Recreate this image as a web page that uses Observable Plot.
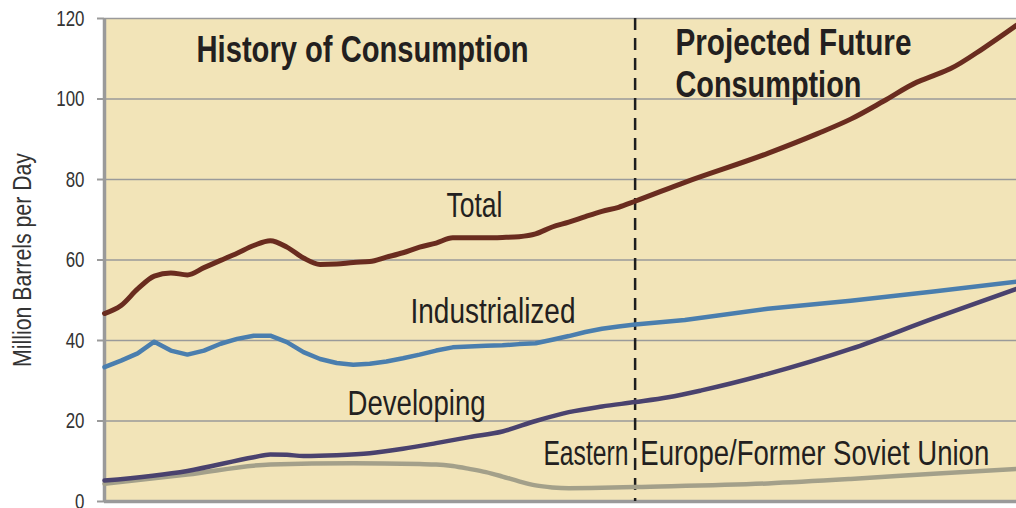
<!DOCTYPE html>
<html>
<head>
<meta charset="utf-8">
<script src="https://cdn.jsdelivr.net/npm/d3@7"></script>
<script src="https://cdn.jsdelivr.net/npm/@observablehq/plot@0.6"></script>
<style>
  html, body { margin: 0; padding: 0; background: #ffffff; }
  #chart { width: 1016px; height: 508px; }
</style>
</head>
<body>
<div id="chart"></div>
<script>
// ---------- data (million barrels per day) ----------
const totalYears = [1970,1971,1972,1973,1974,1975,1976,1977,1978,1979,1980,1981,1982,1983,1984,1985,1986,1987,1988,1989,1990,1991,1992,1993,1994,1995,1996,1997,1998,1999,2000,2001,2002,2005,2010,2013,2015,2017,2019,2020,2021,2023,2025];
const totalValues = [46.7,48.7,52.8,56.0,56.8,56.3,58.1,59.9,61.7,63.6,64.8,63.2,60.5,58.9,59.0,59.4,59.6,60.7,61.8,63.2,64.2,65.5,65.5,65.5,65.6,65.8,66.5,68.2,69.4,70.8,72.1,73.1,74.6,79.3,86.5,91.4,95.0,99.5,104.2,105.8,107.5,112.6,118.3];

const industrializedYears = [1970,1971,1972,1973,1974,1975,1976,1977,1978,1979,1980,1981,1982,1983,1984,1985,1986,1987,1988,1989,1990,1991,1992,1993,1994,1995,1996,1997,1998,1999,2000,2001,2002,2005,2010,2015,2020,2025];
const industrializedValues = [33.4,35.0,36.8,39.7,37.5,36.5,37.5,39.2,40.4,41.2,41.2,39.6,37.1,35.4,34.4,34.0,34.2,34.8,35.6,36.5,37.5,38.3,38.5,38.7,38.8,39.1,39.3,40.2,41.1,42.1,42.9,43.5,44.0,45.1,47.9,49.9,52.2,54.6];

const developingYears = [1970,1975,1979,1980,1981,1982,1984,1986,1988,1990,1992,1994,1996,1998,2000,2002,2004,2006,2010,2015,2020,2025];
const developingValues = [5.2,7.6,11.0,11.7,11.6,11.3,11.5,12.0,13.1,14.5,16.0,17.4,20.0,22.2,23.6,24.7,25.9,27.6,31.7,37.9,45.5,52.8];

const eefsuYears = [1970,1975,1980,1985,1989,1990,1991,1992,1993,1994,1995,1996,1997,1998,2000,2002,2010,2015,2020,2025];
const eefsuValues = [4.4,6.7,9.2,9.5,9.3,9.2,8.8,8.1,7.3,6.2,5.0,4.0,3.5,3.3,3.4,3.6,4.5,5.6,6.9,8.1];

const projectionStart = 2002;
const yTicks = [0,20,40,60,80,100,120];
const yLabel = "Million Barrels per Day";
const historyTitle = "History of Consumption";
const futureTitle1 = "Projected Future";
const futureTitle2 = "Consumption";
const seriesLabels = ["Total","Industrialized","Developing","Eastern Europe/Former Soviet Union"];

// ---------- build tables ----------
const toRows = (years, values, name) => years.map((y, i) => ({year: y, value: values[i], series: name}));
const total = toRows(totalYears, totalValues, seriesLabels[0]);
const industrialized = toRows(industrializedYears, industrializedValues, seriesLabels[1]);
const developing = toRows(developingYears, developingValues, seriesLabels[2]);
const eefsu = toRows(eefsuYears, eefsuValues, seriesLabels[3]);

// the Eastern Europe label is broken by the dashed projection line
const [eeWord1, ...eeRest] = seriesLabels[3].split(" ");
const eeWord2 = eeRest.join(" ");

const FONT = '"Liberation Sans", Arial, sans-serif';
const TEXT = "#231f20";

const label = (txt, x, y, opts) => Plot.text([txt], {x: () => x, y: () => y, text: d => d, lineAnchor: "bottom", fill: TEXT, ...opts});

const chart = Plot.plot({
  width: 1016,
  height: 508,
  marginLeft: 104,
  marginRight: 0,
  marginTop: 18,
  marginBottom: 7,
  style: {fontFamily: FONT, background: "#ffffff", overflow: "visible"},
  x: {domain: [1970, 2025], axis: null},
  y: {domain: [0, 120], axis: null},
  marks: [
    Plot.frame({fill: "#f2e4b8", stroke: null}),
    Plot.gridY(yTicks, {stroke: "#9a9a9a", strokeOpacity: 1, strokeWidth: 1.5}),
    Plot.axisY(yTicks, {
      className: "yax",
      tickSize: 7, tickPadding: 13, stroke: "#9a9a9a", strokeWidth: 2,
      fill: "#333333", fontSize: 22, label: null
    }),
    Plot.ruleX([1970], {stroke: "#9a9a9a", strokeWidth: 3.5}),
    Plot.ruleY([0], {stroke: "#9a9a9a", strokeWidth: 3.5}),
    Plot.ruleX([projectionStart], {stroke: "#1d1d1d", strokeWidth: 2.5, strokeDasharray: "12,8"}),
    Plot.line(eefsu, {x: "year", y: "value", stroke: "#a3a08a", strokeWidth: 4.5, curve: "monotone-x"}),
    Plot.line(developing, {x: "year", y: "value", stroke: "#4a426e", strokeWidth: 4.5, curve: "monotone-x"}),
    Plot.line(industrialized, {x: "year", y: "value", stroke: "#4a7eae", strokeWidth: 4.5, curve: "linear", strokeLinejoin: "round"}),
    Plot.line(total, {x: "year", y: "value", stroke: "#6a2c1f", strokeWidth: 5, curve: "monotone-x"}),
    // region titles
    label(historyTitle, 1985.56, 109.1, {className: "t-hist", textAnchor: "middle", fontSize: 37, fontWeight: "bold"}),
    label(futureTitle1, 2004.43, 110.9, {className: "t-fut1", textAnchor: "start", fontSize: 37, fontWeight: "bold"}),
    label(futureTitle2, 2004.43, 100.45, {className: "t-fut2", textAnchor: "start", fontSize: 37, fontWeight: "bold"}),
    // series labels
    label(seriesLabels[0], 1992.31, 70.8, {className: "l-tot", textAnchor: "middle", fontSize: 35}),
    label(seriesLabels[1], 1993.43, 44.3, {className: "l-ind", textAnchor: "middle", fontSize: 35}),
    label(seriesLabels[2], 1988.82, 21.4, {className: "l-dev", textAnchor: "middle", fontSize: 35}),
    label(eeWord1, 1996.47, 9.19, {className: "l-ee1", textAnchor: "start", fontSize: 35}),
    label(eeWord2, 2002.31, 9.19, {className: "l-ee2", textAnchor: "start", fontSize: 35}),
    // y axis title
    Plot.text([yLabel], {className: "l-y", frameAnchor: "left", text: d => d, rotate: -90, dx: -74, textAnchor: "middle", lineAnchor: "bottom", fontSize: 26, fill: "#333333"})
  ]
});

// condensed look: fit each text to the width it has in the reference
const fit = {"t-hist": 332, "t-fut1": 236, "t-fut2": 186, "l-tot": 56, "l-ind": 165, "l-dev": 138, "l-ee1": 85, "l-ee2": 349, "l-y": 214};
for (const [cls, len] of Object.entries(fit)) {
  d3.select(chart).selectAll(`.${cls} text`).attr("textLength", len).attr("lengthAdjust", "spacingAndGlyphs");
}
d3.select(chart).selectAll(".yax text").each(function() {
  const n = this.textContent.length;
  d3.select(this).attr("textLength", n * 9.4).attr("lengthAdjust", "spacingAndGlyphs");
});
document.getElementById("chart").appendChild(chart);
</script>
</body>
</html>
